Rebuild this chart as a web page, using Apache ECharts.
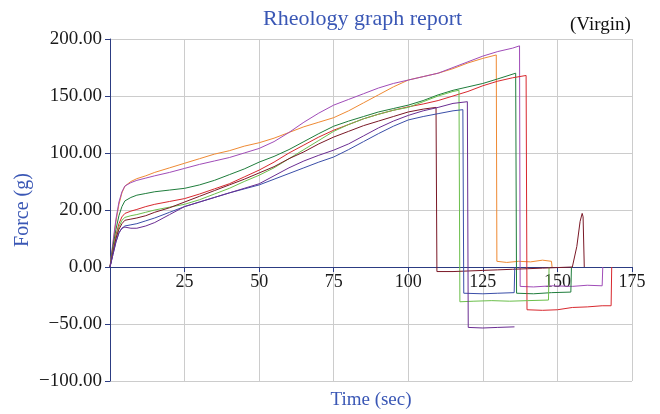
<!DOCTYPE html>
<html>
<head>
<meta charset="utf-8">
<script src="https://cdn.jsdelivr.net/npm/echarts@6/dist/echarts.min.js"></script>
<style>
  html, body { margin: 0; padding: 0; background: #fff; }
  #chart { width: 660px; height: 414px; }
</style>
</head>
<body>
<div id="chart"></div>
<script>
// tick labels as printed on the report (the 50 line reads "20.00")
var yTickValues = [-100, -50, 0, 50, 100, 150, 200];
var yTickLabels = ['\u2212100.00', '\u221250.00', '0.00', '20.00', '100.00', '150.00', '200.00'];
var xTickValues = [25, 50, 75, 100, 125, 150, 175];

// [time (sec), force (g)]
var orange = [[0,0],[1,20],[2,40],[3,55],[4,65],[5,71],[7,75],[9,77.5],[12,80],[15,83],[20,87],[25,91],
  [30,95],[35,99],[40,102],[45,106],[50,109],[55,113],[60,118],[65,123],[70,127],[75,131],[80,137],
  [85,144],[90,151],[95,158],[100,164],[105,167],[110,170],[115,174],[120,179],[125,183],[129.5,186],
  [129.7,5],[133,4],[137,5],[141,4.5],[145,6],[148,5],[148.2,0]];
var magenta = [[0,0],[1,22],[2,42],[3,57],[4,66],[5,71],[7,74],[9,76],[12,78],[15,80],[20,83],[25,86.5],
  [30,90],[35,93],[40,96],[45,100],[50,104],[55,110],[60,118],[65,127],[70,135],[75,142],[80,147],
  [85,152],[90,157],[95,161],[100,164],[105,167],[110,170],[115,175],[120,180],[125,185],[130,189],
  [135,192],[137.3,194],[137.5,-17],[142,-17.5],[148,-16.5],[155,-17],[160,-16],[165,-16.5],[165.2,0]];
var darkGreen = [[0,0],[1,18],[2,33],[3,45],[4,53],[5,58],[7,61],[9,63],[12,64.5],[15,66],[20,67.5],
  [25,69],[30,72],[35,76],[40,81],[45,86],[50,92],[55,97],[60,103],[65,110],[70,117],[75,123.5],
  [80,128],[85,132],[90,136],[95,139],[100,142],[105,146],[110,151],[115,155],[120,158],[125,161],
  [130,165],[136,170],[136.3,-23],[142,-23.5],[148,-22.5],[154.5,-22],[154.7,0]];
var red = [[0,0],[1,15],[2,28],[3,38],[4,44],[5,47],[7,49],[9,50.5],[12,53],[15,55],[20,57.5],[25,60],
  [30,64],[35,68.5],[40,73],[45,79],[50,85],[55,92],[60,100],[65,107],[70,114],[75,120],[80,125],
  [85,130],[90,134],[95,137.5],[100,140.5],[105,143],[110,146],[115,150],[120,154],[125,159],
  [130,163],[135,166],[139.5,168],[139.8,-37.5],[145,-38],[150,-37.5],[155,-35.5],[160,-35],
  [165,-34],[168,-34],[168.2,0]];
var maroon = [[0,0],[1,13],[2,25],[3,33],[4,38],[5,41],[7,42],[9,43],[12,45],[15,48],[20,52],[25,57],
  [30,62],[35,67],[40,72],[45,77],[50,82.5],[55,88],[60,95],[65,101],[70,108],[75,114],[80,119],
  [85,124],[90,128],[95,132],[100,136],[105,138.5],[109.3,140],[109.6,-4],[115,-4],[120,-3.5],
  [125,-3],[130,-2.5],[135,-2],[140,-1.5],[145,-1],[150,-0.5],[155,0],[156.5,18],[157.6,40],
  [158.3,47],[158.6,44],[159,0]];
var lightGreen = [[0,0],[1,14],[2,26],[3,35],[4,41],[5,43.5],[7,45],[9,46],[12,48],[15,50],[20,52.5],
  [25,55],[30,59],[35,64],[40,69],[45,75],[50,80.5],[55,87],[60,95],[65,103],[70,111],[75,119],
  [80,125],[85,130],[90,134],[95,137.5],[100,140],[105,145],[110,150],[115,154],[117,155],
  [117.3,-30.5],[122,-30],[128,-29.5],[134,-30],[140,-29.5],[147,-29],[147.2,0]];
var blue = [[0,0],[1,11],[2,22],[3,30],[4,34],[5,36],[7,37],[9,38],[12,40.5],[15,43],[20,48],[25,53],
  [30,57],[35,61],[40,65],[45,68.5],[50,72],[55,77],[60,82],[65,87],[70,92],[75,96.5],[80,103],
  [85,110],[90,117],[95,123.5],[100,129],[105,132],[110,134.5],[115,137],[118.3,138],[118.6,-23],
  [125,-23.5],[130,-23],[135.5,-22.5],[135.7,0]];
var violet = [[0,0],[1,11],[2,22],[3,30],[4,34],[5,35],[7,34],[9,34],[12,36],[15,39],[20,46],[25,53],
  [30,57],[35,61],[40,65],[45,69],[50,73],[55,80],[60,87],[65,93],[70,98],[75,102.5],[80,108],
  [85,115],[90,122],[95,128],[100,133],[105,137],[110,140],[115,143.5],[119.8,145],[120.1,-53],
  [125,-53.5],[130,-53],[135.6,-52.5]];

var seriesList = [
  { name: 'orange', data: orange, color: '#ef8a33' },
  { name: 'magenta', data: magenta, color: '#a04cb8' },
  { name: 'darkGreen', data: darkGreen, color: '#1f7d3c' },
  { name: 'red', data: red, color: '#d8282e' },
  { name: 'lightGreen', data: lightGreen, color: '#6cbf4c' },
  { name: 'maroon', data: maroon, color: '#7a1826' },
  { name: 'blue', data: blue, color: '#3a4ea8' },
  { name: 'violet', data: violet, color: '#6a2d92' }
];

var serif = 'Liberation Serif';
var blueText = '#3a57b5';
var axisBlue = '#2c3c82';

var option = {
  animation: false,
  backgroundColor: '#fff',
  title: [{
    text: 'Rheology graph report',
    left: 258, top: 3,
    textStyle: { fontFamily: serif, fontSize: 22, fontWeight: 'normal', color: blueText }
  }, {
    text: '(Virgin)',
    left: 565, top: 11,
    textStyle: { fontFamily: serif, fontSize: 19, fontWeight: 'normal', color: '#111' }
  }],
  grid: { left: 110, right: 28, top: 39, bottom: 33, containLabel: false, outerBoundsMode: 'none' },
  xAxis: {
    type: 'value',
    position: 'bottom',
    // the axis sits on the zero line, 114px above the bottom of the plot
    offset: -114,
    min: 0, max: 175, interval: 25,
    name: 'Time (sec)',
    nameLocation: 'middle',
    nameGap: 124,
    nameMoveOverlap: false,
    nameTextStyle: { fontFamily: serif, fontSize: 19, color: blueText },
    axisLine: { show: true, onZero: false, lineStyle: { color: axisBlue, width: 1 } },
    axisTick: { show: true, length: 5, lineStyle: { color: axisBlue } },
    axisLabel: {
      fontFamily: serif, fontSize: 18, color: '#1a1a1a', margin: 6,
      formatter: function (v) { return xTickValues.indexOf(v) >= 0 ? String(v) : ''; }
    },
    splitLine: { show: true, lineStyle: { color: '#cccccc', width: 1 } }
  },
  yAxis: {
    type: 'value',
    min: -100, max: 200, interval: 50,
    name: 'Force (g)',
    nameLocation: 'middle',
    nameGap: 77,
    nameMoveOverlap: false,
    nameTextStyle: { fontFamily: serif, fontSize: 20, color: blueText },
    axisLine: { show: true, onZero: false, lineStyle: { color: axisBlue, width: 1 } },
    axisTick: { show: true, length: 5, lineStyle: { color: axisBlue } },
    axisLabel: {
      fontFamily: serif, fontSize: 19, color: '#1a1a1a', margin: 8,
      formatter: function (v) {
        var i = yTickValues.indexOf(v);
        return i >= 0 ? yTickLabels[i] : '';
      }
    },
    splitLine: { show: true, lineStyle: { color: '#cccccc', width: 1 } }
  },
  series: seriesList.map(function (s) {
    return {
      name: s.name,
      type: 'line',
      data: s.data,
      showSymbol: false,
      symbol: 'none',
      lineStyle: { color: s.color, width: 1 },
      itemStyle: { color: s.color }
    };
  })
};

var myChart = echarts.init(document.getElementById('chart'));
myChart.setOption(option);
</script>
</body>
</html>
